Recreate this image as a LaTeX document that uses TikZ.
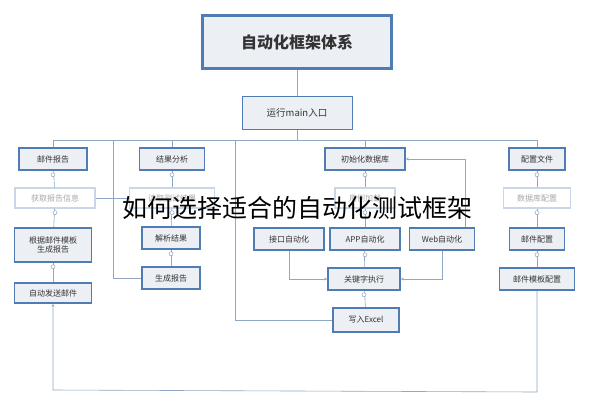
\documentclass[tikz,border=0pt]{standalone}
\usepackage{fontspec}
\setmainfont{Noto Sans CJK SC}
\usetikzlibrary{arrows.meta,positioning}
\definecolor{bd}{HTML}{4F7DB3}
\definecolor{fl}{HTML}{ECF0F5}
\definecolor{ln}{HTML}{8FA8C4}
\definecolor{fb}{HTML}{C9D7E8}
\definecolor{ft}{HTML}{A8A8A8}
\definecolor{tx}{HTML}{333333}
\tikzset{
  box/.style={draw=bd,line width=1.6pt,fill=fl,text=tx,inner sep=0pt,align=center,font=\fontsize{8}{9.5}\selectfont},
  fbox/.style={draw=fb,line width=1.2pt,fill=white,text=ft,inner sep=0pt,align=center,font=\fontsize{8}{9.5}\selectfont},
  conn/.style={draw=ln,line width=0.6pt},
  tip/.style={conn,-{Stealth[length=3pt,width=3pt]}},
  tog/.style={circle,draw=ln,fill=white,line width=0.5pt,inner sep=0pt,minimum size=4pt}
}
\begin{document}
\begin{tikzpicture}[x=1pt,y=-1pt]
\useasboundingbox[fill=white] (0,0) rectangle (594,400);
% nodes
\node[box,line width=3pt,minimum width=189pt,minimum height=53pt,font=\bfseries\fontsize{16}{18}\selectfont] (title) at (297,42) {自动化框架体系};
\node[box,line width=1pt,minimum width=110pt,minimum height=33pt,font=\fontsize{9.5}{11}\selectfont] (main) at (297,113) {运行main入口};
% row 1
\node[box,minimum width=68pt,minimum height=22pt] (mail) at (53,159) {邮件报告};
\node[box,minimum width=65pt,minimum height=22pt] (result) at (172,159) {结果分析};
\node[box,minimum width=80pt,minimum height=22pt] (initdb) at (365,159) {初始化数据库};
\node[box,minimum width=56pt,minimum height=22pt] (config) at (537,159) {配置文件};
% faded row
\node[fbox,minimum width=80pt,minimum height=20pt] (getinfo) at (55,198) {获取报告信息};
\node[fbox,minimum width=85pt,minimum height=20pt] (resf) at (172,198) {读取测试结果};
\node[fbox,minimum width=60pt,minimum height=20pt] (midf) at (365,198) {用例加载};
\node[fbox,minimum width=67pt,minimum height=20pt] (dbconf) at (537,198) {数据库配置};
% row 3
\node[box,minimum width=77pt,minimum height=34pt] (tmplrep) at (53,245) {根据邮件模板\\生成报告};
\node[box,minimum width=58pt,minimum height=22pt] (parse) at (171,238) {解析结果};
\node[box,minimum width=70pt,minimum height=22pt] (api) at (289,239) {接口自动化};
\node[box,minimum width=70pt,minimum height=22pt] (app) at (365,239) {APP自动化};
\node[box,minimum width=65pt,minimum height=22pt] (web) at (442,239) {Web自动化};
\node[box,minimum width=55pt,minimum height=22pt] (mailconf) at (537,239) {邮件配置};
% row 4
\node[box,minimum width=77pt,minimum height=20pt] (send) at (53,293) {自动发送邮件};
\node[box,minimum width=58pt,minimum height=22pt] (gen) at (171,278) {生成报告};
\node[box,minimum width=72pt,minimum height=22pt] (kw) at (364,279) {关键字执行};
\node[box,minimum width=75pt,minimum height=22pt] (tmplconf) at (537,279) {邮件模板配置};
\node[box,minimum width=66pt,minimum height=24pt] (excel) at (366,320) {写入Excel};
% coordinates
\coordinate (bus) at (297,140);
\coordinate (bl) at (53,140);
\coordinate (br) at (537,140);
% trunk
\draw[conn] (title.south) -- (main.north);
\draw[conn] (main.south) -- (bus);
\draw[conn] (bl) -- (br);
\draw[conn] (bl) -- (mail.north);
\draw[conn] (result.north|-bus) -- (result.north);
\draw[conn] (initdb.north|-bus) -- (initdb.north);
\draw[conn] (br) -- (config.north);
\draw[conn] (113,140) |- (gen.west);
\draw[conn] (235,140) |- (excel.west);
% columns
\draw[conn] (mail) -- (getinfo);
\draw[conn] (getinfo) -- (tmplrep);
\draw[conn] (tmplrep) -- (send);
\draw[conn] (getinfo.east) -- (resf.west);
\draw[conn] (result) -- (resf);
\draw[conn] (resf) -- (parse);
\draw[conn] (parse) -- (gen);
\draw[conn] (initdb) -- (midf);
\draw[conn] (midf) -- (app);
\draw[conn] (app) -- (kw);
\draw[conn] (kw) -- (excel);
\draw[conn] (config) -- (dbconf);
\draw[conn] (dbconf) -- (mailconf);
\draw[conn] (mailconf) -- (tmplconf);
% cross connections
\draw[tip] (web.north east) ++(-10,0) coordinate (wt) |- (initdb.east);
\draw[tip] (api.south) |- (kw.west);
\draw[tip] (web.south) |- (kw.east);
\coordinate (lb) at (53,390);
\coordinate (rb) at (537,392);
\draw[tip] (tmplconf.south) -- (rb) -- (lb) -- (send.south);
% toggles
\foreach \n in {mail,getinfo,tmplrep,result,resf,parse,initdb,midf,app,kw,config,dbconf,mailconf}
  \node[tog] at ([yshift=-4pt]\n.south) {};
% watermark caption
\node[text=black,font=\fontsize{25}{28}\selectfont,inner sep=0pt] (cap) at (297,208) {如何选择适合的自动化测试框架};
\end{tikzpicture}
\end{document}
